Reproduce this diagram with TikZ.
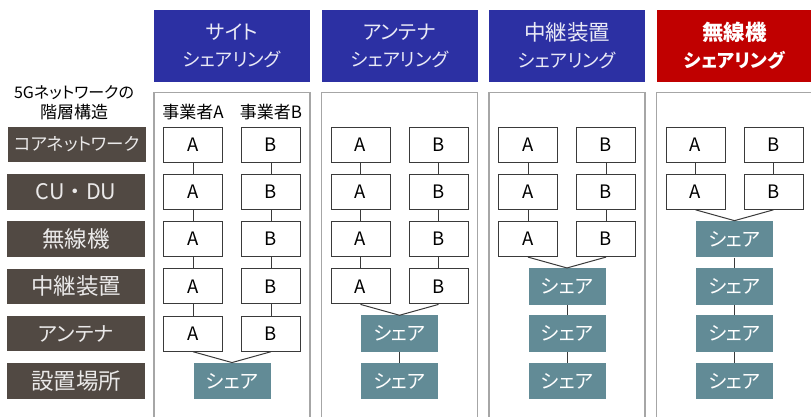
\documentclass[tikz,border=0pt]{standalone}
\usepackage{fontspec}
\setmainfont{Noto Sans CJK JP}[RawFeature=+palt]
\newfontfamily\fullwidth{Noto Sans CJK JP}
\definecolor{hdrblue}{HTML}{2C30A3}
\definecolor{hdrred}{HTML}{C00000}
\definecolor{layerc}{HTML}{514943}
\definecolor{sharec}{HTML}{628B96}
\definecolor{panelc}{HTML}{A6A6A6}
\definecolor{linec}{HTML}{3A3A3A}
\newcommand{\fsz}[1]{\fontsize{#1}{#1}\selectfont}
\begin{document}
\begin{tikzpicture}[x=1pt,y=-1pt,
  layer/.style={fill=layerc,text=white!88!layerc,minimum width=138pt,minimum height=35.5pt,inner sep=0pt,font=\fsz{21}},
  hdr/.style={fill=hdrblue,text=white!90!hdrblue,minimum width=156pt,minimum height=72pt,inner sep=0pt,align=center,font=\fontsize{18.5}{27}\selectfont},
  hdrr/.style={hdr,fill=hdrred,text=white,font=\fontsize{18.5}{27}\selectfont\bfseries},
  panel/.style={draw=panelc,line width=1.3pt},
  opbox/.style={draw=linec,fill=white,line width=1pt,minimum width=59pt,minimum height=35pt,inner sep=0pt,font=\fsz{18.5}},
  sharebox/.style={fill=sharec,text=white,minimum width=77pt,minimum height=36.5pt,inner sep=0pt,font=\fsz{19.5}},
  conn/.style={draw=linec,line width=1pt},
  small/.style={font=\fontsize{17}{19.5}\selectfont,align=center,inner sep=0pt}
]
\clip (0,0) rectangle (811,416);
\fill[white] (0,0) rectangle (811,416);

% panels
\foreach \l in {154,321.5,489,656.5}
  \draw[panel] (\l,92.5) rectangle ++(156,340);

% headers
\node[hdr]  (h1) at (232,46)   {{\fsz{20}サイト}\\シェアリング};
\node[hdr]  (h2) at (399.5,46) {{\fsz{20}アンテナ}\\シェアリング};
\node[hdr]  (h3) at (567,46)   {{\fsz{21.5}中継装置}\\シェアリング};
\node[hdrr] (h4) at (734.5,46) {{\fsz{21.5}無線機}\\シェアリング};

% title and layer labels
\node[small,font=\fontsize{16}{19.5}\selectfont] (title) at (74,102.5) {5Gネットワークの\\{\fsz{17}階層構造}};
\node[layer,font=\fsz{17.5}] (l1) at (77,144.5) {コアネットワーク};
\node[layer,font=\fullwidth\fsz{21.5}] (l2) at (76,191.8) {CU・DU};
\node[layer,font=\fsz{22.5}] (l3) at (76,239.1) {無線機};
\node[layer,font=\fsz{22.5}] (l4) at (76,286.4) {中継装置};
\node[layer,font=\fsz{20.5}] (l5) at (76,333.7) {アンテナ};
\node[layer,font=\fsz{22.5}] (l6) at (76,381.0) {設置場所};

\node[small] (opA) at (193,112) {事業者A};
\node[small] (opB) at (271,112) {事業者B};

% column 1: A/B rows 1-5, share row 6
\foreach \i/\y in {1/144.5,2/191.8,3/239.1,4/286.4,5/333.7}{
  \node[opbox] (c1a\i) at (193,\y) {A};
  \node[opbox] (c1b\i) at (271,\y) {B};
}
\node[sharebox] (c1s6) at (232,381.0) {シェア};
\foreach \i/\j in {1/2,2/3,3/4,4/5}{
  \draw[conn] (c1a\i) -- (c1a\j);
  \draw[conn] (c1b\i) -- (c1b\j);
}
\draw[conn] (c1a5.south) -- (c1s6.north) -- (c1b5.south);

% column 2: A/B rows 1-4, share rows 5-6
\foreach \i/\y in {1/144.5,2/191.8,3/239.1,4/286.4}{
  \node[opbox] (c2a\i) at (360.5,\y) {A};
  \node[opbox] (c2b\i) at (438.5,\y) {B};
}
\node[sharebox] (c2s5) at (399.5,333.7) {シェア};
\node[sharebox] (c2s6) at (399.5,381.0) {シェア};
\foreach \i/\j in {1/2,2/3,3/4}{
  \draw[conn] (c2a\i) -- (c2a\j);
  \draw[conn] (c2b\i) -- (c2b\j);
}
\draw[conn] (c2a4.south) -- (c2s5.north) -- (c2b4.south);
\draw[conn] (c2s5) -- (c2s6);

% column 3: A/B rows 1-3, share rows 4-6
\foreach \i/\y in {1/144.5,2/191.8,3/239.1}{
  \node[opbox] (c3a\i) at (528,\y) {A};
  \node[opbox] (c3b\i) at (606,\y) {B};
}
\node[sharebox] (c3s4) at (567,286.4) {シェア};
\node[sharebox] (c3s5) at (567,333.7) {シェア};
\node[sharebox] (c3s6) at (567,381.0) {シェア};
\foreach \i/\j in {1/2,2/3}{
  \draw[conn] (c3a\i) -- (c3a\j);
  \draw[conn] (c3b\i) -- (c3b\j);
}
\draw[conn] (c3a3.south) -- (c3s4.north) -- (c3b3.south);
\draw[conn] (c3s4) -- (c3s5);
\draw[conn] (c3s5) -- (c3s6);

% column 4: A/B rows 1-2, share rows 3-6
\foreach \i/\y in {1/144.5,2/191.8}{
  \node[opbox] (c4a\i) at (695.5,\y) {A};
  \node[opbox] (c4b\i) at (773.5,\y) {B};
}
\node[sharebox] (c4s3) at (734.5,239.1) {シェア};
\node[sharebox] (c4s4) at (734.5,286.4) {シェア};
\node[sharebox] (c4s5) at (734.5,333.7) {シェア};
\node[sharebox] (c4s6) at (734.5,381.0) {シェア};
\draw[conn] (c4a1) -- (c4a2);
\draw[conn] (c4b1) -- (c4b2);
\draw[conn] (c4a2.south) -- (c4s3.north) -- (c4b2.south);
\draw[conn] (c4s3) -- (c4s4);
\draw[conn] (c4s4) -- (c4s5);
\draw[conn] (c4s5) -- (c4s6);
\end{tikzpicture}
\end{document}
